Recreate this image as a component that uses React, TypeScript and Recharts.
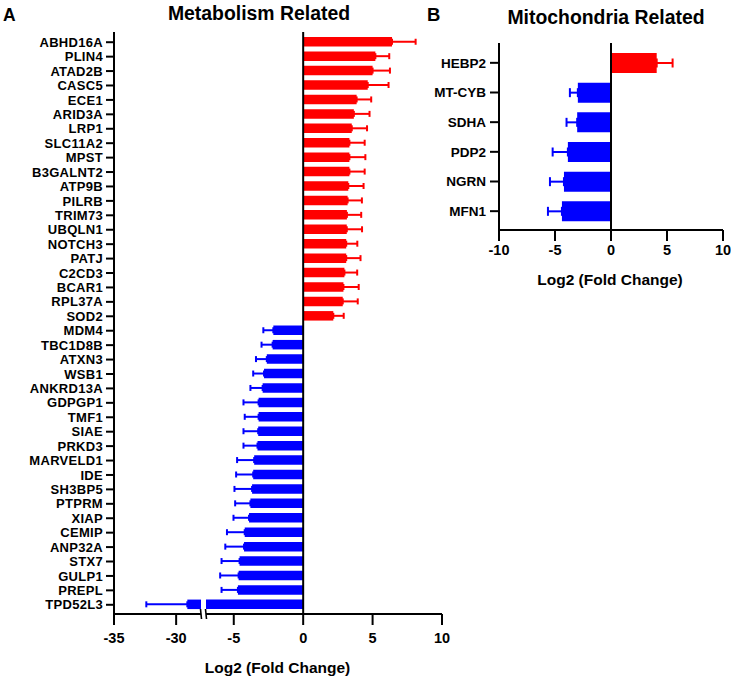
import React from "react";
import { BarChart, Bar, XAxis, YAxis, ErrorBar, Cell, ReferenceLine } from "recharts";

// panel A: metabolism related genes
const genesA = [
  "ABHD16A", "PLIN4", "ATAD2B", "CASC5", "ECE1", "ARID3A", "LRP1", "SLC11A2", "MPST", "B3GALNT2",
  "ATP9B", "PILRB", "TRIM73", "UBQLN1", "NOTCH3", "PATJ", "C2CD3", "BCAR1", "RPL37A", "SOD2",
  "MDM4", "TBC1D8B", "ATXN3", "WSB1", "ANKRD13A", "GDPGP1", "TMF1", "SIAE", "PRKD3", "MARVELD1",
  "IDE", "SH3BP5", "PTPRM", "XIAP", "CEMIP", "ANP32A", "STX7", "GULP1", "PREPL", "TPD52L3",
];
const foldA = [
  6.4, 5.2, 5.0, 4.65, 3.85, 3.65, 3.5, 3.33, 3.33, 3.33,
  3.25, 3.2, 3.15, 3.14, 3.1, 3.1, 2.97, 2.9, 2.85, 2.17,
  -2.15, -2.2, -2.62, -2.82, -2.92, -3.21, -3.21, -3.24, -3.29, -3.53,
  -3.6, -3.68, -3.8, -3.9, -4.21, -4.26, -4.58, -4.65, -4.7, -29.1,
];
const errA = [
  1.7, 1.0, 1.25, 1.5, 1.05, 1.13, 1.1, 1.1, 1.15, 1.1,
  1.1, 1.03, 1.03, 1.1, 0.8, 1.03, 0.92, 1.1, 1.08, 0.75,
  0.72, 0.8, 0.78, 0.78, 0.88, 1.09, 1.0, 1.06, 1.01, 1.23,
  1.23, 1.27, 1.1, 1.12, 1.28, 1.35, 1.3, 1.33, 1.18, 3.3,
];

// panel B: mitochondria related genes
const genesB = ["HEBP2", "MT-CYB", "SDHA", "PDP2", "NGRN", "MFN1"];
const foldB = [4.08, -2.96, -3.02, -3.85, -4.2, -4.38];
const errB = [1.42, 0.71, 0.95, 1.36, 1.25, 1.25];

// broken x axis of panel A
const domainALeft = [-35, -28];
const domainARight = [-7, 10];
const ticksALeft = [-35, -30];
const ticksARight = [-5, 0, 5, 10];
const ticksB = [-10, -5, 0, 5, 10];

const RED = "#ff0000";
const BLUE = "#0000ff";
const FONT = '"Liberation Sans", Arial, sans-serif';

type Row = { gene: string; fc: number; up: number[] | null; down: number[] | null };

function buildRows(genes: string[], fc: number[], err: number[], lo: number, hi: number): Row[] {
  return genes.map((g, i) => {
    const v = fc[i];
    const inside = v >= lo && v <= hi;
    return {
      gene: g,
      fc: v,
      up: v > 0 && inside ? [0, err[i]] : null,
      down: v < 0 && inside ? [err[i], 0] : null,
    };
  });
}

const rowsALeft = buildRows(genesA, foldA, errA, domainALeft[0] - 10, domainALeft[1]);
const rowsARight = buildRows(genesA, foldA, errA, domainARight[0], domainARight[1]);
const rowsB = buildRows(genesB, foldB, errB, -10, 10);

const axisStyle = { stroke: "#000", strokeWidth: 2 };
const tickText = { fill: "#000", fontSize: 14.5, fontWeight: 700, fontFamily: FONT };
const catText = { fill: "#000", fontSize: 13, fontWeight: 700, fontFamily: FONT, letterSpacing: 0.3 };

function bars(rows: Row[], capWidth: number) {
  return (
    <Bar dataKey="fc" isAnimationActive={false}>
      {rows.map((r) => (
        <Cell key={r.gene} fill={r.fc > 0 ? RED : BLUE} />
      ))}
      <ErrorBar dataKey="up" direction="x" width={capWidth} stroke={RED} strokeWidth={2} isAnimationActive={false} />
      <ErrorBar dataKey="down" direction="x" width={capWidth} stroke={BLUE} strokeWidth={2} isAnimationActive={false} />
    </Bar>
  );
}

export default function App() {
  const marginA = { top: 32, right: 0, left: 0, bottom: 23 };
  return (
    <div
      style={{
        position: "absolute",
        left: 0,
        top: 0,
        width: 731,
        height: 677,
        background: "#fff",
        fontFamily: FONT,
      }}
    >
      {/* left segment of panel A with gene labels */}
      <div style={{ position: "absolute", left: 0, top: 0 }}>
        <BarChart layout="vertical" width={201} height={677} data={rowsALeft} margin={marginA} barSize={9.5}>
          <XAxis
            type="number"
            domain={domainALeft}
            ticks={ticksALeft}
            allowDataOverflow
            axisLine={axisStyle}
            tickLine={axisStyle}
            tickSize={11}
            tickMargin={8}
            tick={tickText}
            height={40}
          />
          <YAxis
            type="category"
            dataKey="gene"
            width={114}
            interval={0}
            padding={{ top: 3, bottom: 2 }}
            axisLine={axisStyle}
            tickLine={axisStyle}
            tickSize={8}
            tickMargin={3}
            tick={catText}
          />
          {bars(rowsALeft, 3)}
        </BarChart>
      </div>

      {/* right segment of panel A */}
      <div style={{ position: "absolute", left: 206, top: 0 }}>
        <BarChart layout="vertical" width={251} height={677} data={rowsARight} margin={{ ...marginA, right: 15 }} barSize={9.5}>
          <XAxis
            type="number"
            domain={domainARight}
            ticks={ticksARight}
            allowDataOverflow
            axisLine={axisStyle}
            tickLine={axisStyle}
            tickSize={11}
            tickMargin={8}
            tick={tickText}
            height={40}
          />
          <YAxis type="category" dataKey="gene" hide interval={0} padding={{ top: 3, bottom: 2 }} />
          {bars(rowsARight, 3)}
          <ReferenceLine x={0} stroke="#000" strokeWidth={2} />
        </BarChart>
      </div>

      {/* panel B */}
      <div style={{ position: "absolute", left: 420, top: 0 }}>
        <BarChart layout="vertical" width={318} height={270} data={rowsB} margin={{ top: 43, right: 15, left: 0, bottom: 0 }} barSize={20}>
          <XAxis
            type="number"
            domain={[-10, 10]}
            ticks={ticksB}
            axisLine={axisStyle}
            tickLine={axisStyle}
            tickSize={11}
            tickMargin={4}
            tick={tickText}
            height={40}
          />
          <YAxis
            type="category"
            dataKey="gene"
            width={79}
            interval={0}
            padding={{ top: 5, bottom: 4 }}
            axisLine={axisStyle}
            tickLine={axisStyle}
            tickSize={9}
            tickMargin={4}
            tick={{ ...catText, fontSize: 13.5, letterSpacing: 0 }}
          />
          {bars(rowsB, 4.5)}
          <ReferenceLine x={0} stroke="#000" strokeWidth={2} />
        </BarChart>
      </div>

      {/* titles, panel letters, axis titles, axis break marks */}
      <svg
        width={731}
        height={677}
        style={{ position: "absolute", left: 0, top: 0, pointerEvents: "none" }}
        fontFamily={FONT}
        fontWeight={700}
      >
        <text x={3} y={21} fontSize={17.5} fill="#000">A</text>
        <text x={427} y={21} fontSize={18.5} fill="#000">B</text>
        <text x={259} y={20} fontSize={19.4} textAnchor="middle" fill="#000">Metabolism Related</text>
        <text x={606} y={24} fontSize={19.4} textAnchor="middle" fill="#000">Mitochondria Related</text>
        <text x={277.5} y={673} fontSize={15.5} textAnchor="middle" fill="#000">Log2 (Fold Change)</text>
        <text x={610} y={285} fontSize={15.5} textAnchor="middle" fill="#000">Log2 (Fold Change)</text>
        <line x1={200.5} y1={609} x2={201.5} y2={619} stroke="#000" strokeWidth={1.6} />
        <line x1={205.5} y1={609} x2={206.5} y2={619} stroke="#000" strokeWidth={1.6} />
      </svg>
    </div>
  );
}
